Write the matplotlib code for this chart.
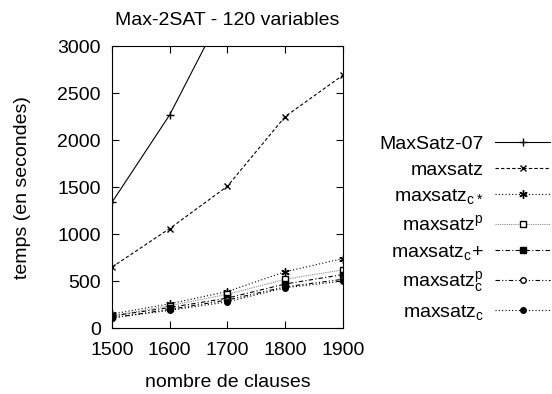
import matplotlib
matplotlib.use("Agg")
import matplotlib.pyplot as plt

plt.rcParams['font.family'] = ['Liberation Sans', 'DejaVu Sans']
plt.rcParams['mathtext.default'] = 'regular'

# data
clauses = [1500, 1600, 1700, 1800, 1900]
maxsatz07 = [1340, 2270, 3460, 5000, 7000]
maxsatz = [650, 1060, 1510, 2250, 2690]
maxsatz_cstar = [150, 260, 390, 600, 740]
maxsatz_p = [130, 240, 360, 520, 620]
maxsatz_cplus = [130, 220, 320, 470, 570]
maxsatz_cp = [110, 200, 300, 440, 520]
maxsatz_c = [110, 190, 280, 430, 500]

labels = ['MaxSatz-07', 'maxsatz', r'maxsatz$_{c*}$', r'maxsatz$^{p}$',
          r'maxsatz$_{c}$+', r'maxsatz$_{c}^{p}$', r'maxsatz$_{c}$']
series = [maxsatz07, maxsatz, maxsatz_cstar, maxsatz_p,
          maxsatz_cplus, maxsatz_cp, maxsatz_c]
styles = [
    dict(ls='-', marker='+', ms=6, color='black'),
    dict(ls=(0, (3, 2)), marker='x', ms=5, color='black'),
    dict(ls=(0, (1, 2)), marker=(6, 2, 0), ms=6, color='black'),
    dict(ls=(0, (1, 1)), marker='s', ms=5, color='#888888', mfc='white', mec='black'),
    dict(ls=(0, (4, 2, 1, 2)), marker='s', ms=5, color='black'),
    dict(ls=(0, (4, 2, 1, 2, 1, 2)), marker='o', ms=4, color='black', mfc='white'),
    dict(ls=(0, (1, 2)), marker='o', ms=4, color='black'),
]

fs = 14
fig = plt.figure(figsize=(5.52, 3.94), dpi=100)
ax = fig.add_axes([0.203, 0.167, 0.418, 0.716])

for y, lab, st in zip(series, labels, styles):
    ax.plot(clauses, y, lw=0.8, label=lab, **st)

ax.set_xlim(1500, 1900)
ax.set_ylim(0, 3000)
ax.set_xticks(clauses)
ax.set_yticks(range(0, 3001, 500))
ax.tick_params(direction='in', top=True, right=True, labelsize=fs, length=5)
ax.tick_params(axis='x', pad=10)
ax.tick_params(axis='y', pad=8)
ax.set_title('Max-2SAT - 120 variables', fontsize=fs, pad=15)
ax.set_xlabel('nombre de clauses', fontsize=fs, labelpad=11)
ax.set_ylabel('temps (en secondes)', fontsize=fs, labelpad=19)

ax.legend(loc='upper left', bbox_to_anchor=(1.125, 0.71), frameon=False,
          markerfirst=False, fontsize=fs, handlelength=2.8, labelspacing=0.42,
          handletextpad=0.6, borderaxespad=0.0)

fig.savefig('out.png', dpi=100)
